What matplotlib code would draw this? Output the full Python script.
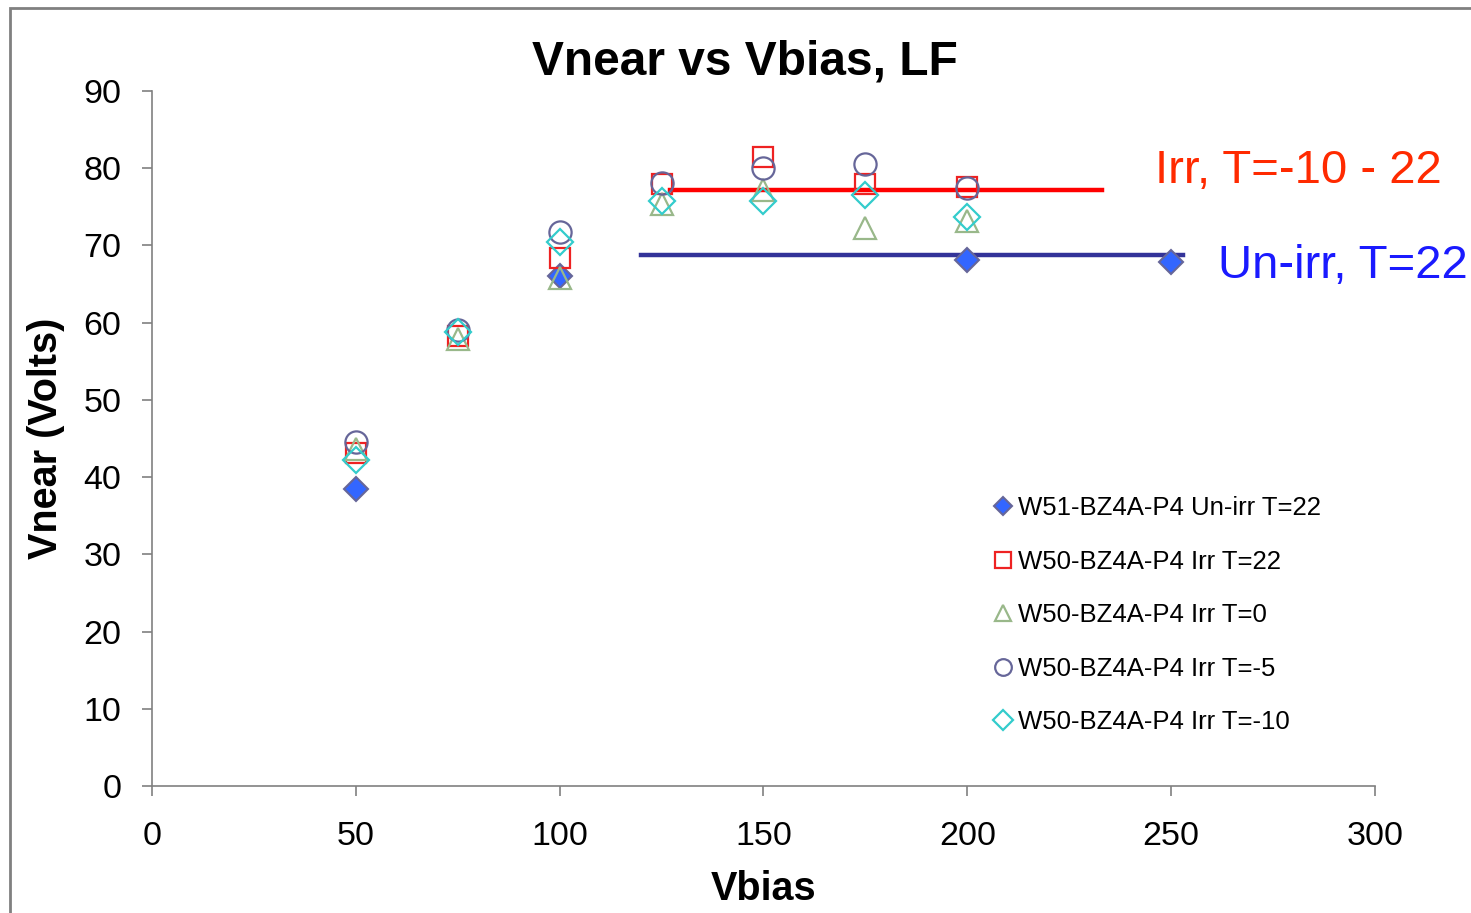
## Vnear vs Vbias scatter, LF
from matplotlib import pyplot as plt
from matplotlib.patches import Rectangle

plt.rcParams['font.family'] = ['Liberation Sans', 'DejaVu Sans']

# bias points and measured Vnear per sample / temperature
vbias_unirr = [50, 100, 200, 250]
vnear_unirr = [38.5, 66.0, 68.1, 67.9]

vbias_irr = [50, 75, 100, 125, 150, 175, 200]
vnear_t22 = [43.1, 58.3, 68.4, 78.0, 81.5, 77.9, 77.6]
vnear_t0 = [43.6, 57.9, 65.8, 75.4, 77.2, 72.2, 73.2]
vnear_tm5 = [44.5, 59.0, 71.7, 78.1, 80.0, 80.5, 77.4]
vnear_tm10 = [42.2, 58.8, 70.4, 75.8, 75.8, 76.5, 73.7]

labels = ["W51-BZ4A-P4 Un-irr T=22", "W50-BZ4A-P4 Irr T=22",
          "W50-BZ4A-P4 Irr T=0", "W50-BZ4A-P4 Irr T=-5",
          "W50-BZ4A-P4 Irr T=-10"]

# plateau levels
irr_level_x = [127, 233]
irr_level_y = [77.2, 77.2]
unirr_level_x = [120, 253]
unirr_level_y = [68.8, 68.8]

fig = plt.figure(figsize=(14.71, 9.13), dpi=100)
ax = fig.add_axes([0.1033, 0.1391, 0.8314, 0.7612])

ax.plot(irr_level_x, irr_level_y, color='#FF0000', lw=3.2, zorder=2)
ax.plot(unirr_level_x, unirr_level_y, color='#333399', lw=3.2, zorder=2)

ax.plot(vbias_unirr, vnear_unirr, 'D', ms=12, mfc='#3366FF', mec='#666699', mew=1.5, label=labels[0], zorder=3)
ax.plot(vbias_irr, vnear_t22, 's', ms=15, mfc='none', mec='#EE2222', mew=1.6, label=labels[1], zorder=3)
ax.plot(vbias_irr, vnear_t0, '^', ms=16, mfc='none', mec='#99B88A', mew=1.6, label=labels[2], zorder=3)
ax.plot(vbias_irr, vnear_tm5, 'o', ms=16, mfc='none', mec='#666699', mew=1.6, label=labels[3], zorder=3)
ax.plot(vbias_irr, vnear_tm10, 'D', ms=13, mfc='none', mec='#33CCCC', mew=1.6, label=labels[4], zorder=3)

ax.set_xlim(0, 300)
ax.set_ylim(0, 90)
ax.set_xticks(range(0, 301, 50))
ax.set_yticks(range(0, 91, 10))
for s in ['top', 'right']:
    ax.spines[s].set_visible(False)
for s in ['left', 'bottom']:
    ax.spines[s].set_color('#808080')
    ax.spines[s].set_linewidth(1.2)
ax.tick_params(colors='#808080', labelcolor='black', labelsize=24.5, length=7, width=1.2)
ax.tick_params(axis='y', pad=15)
ax.tick_params(axis='x', pad=18)

fig.text(745 / 1471, 1 - 62 / 913, "Vnear vs Vbias, LF", fontsize=34.5, fontweight='bold',
         ha='center', va='center')
ax.set_xlabel("Vbias", fontsize=28.5, fontweight='bold', labelpad=13)
ax.set_ylabel("Vnear (Volts)", fontsize=28.5, fontweight='bold', labelpad=13)

ax.text(246, 79.7, "Irr, T=-10 - 22", color='#FF2A00', fontsize=34, va='center', clip_on=False)
ax.text(261.5, 67.4, "Un-irr, T=22", color='#1A1AFF', fontsize=34, va='center', clip_on=False)

leg = ax.legend(loc='upper left', bbox_to_anchor=(0.681, 0.432), frameon=False,
                fontsize=18.5, markerscale=0.75, handlelength=0.6, handletextpad=0.3,
                labelspacing=1.15, borderaxespad=0)

# outer chart frame
fig.add_artist(Rectangle((10 / 1471, -0.05), 1.2, 1.05 - 8 / 913, transform=fig.transFigure,
                         fill=False, ec='#808080', lw=2))

fig.savefig('out.png', dpi=100)
